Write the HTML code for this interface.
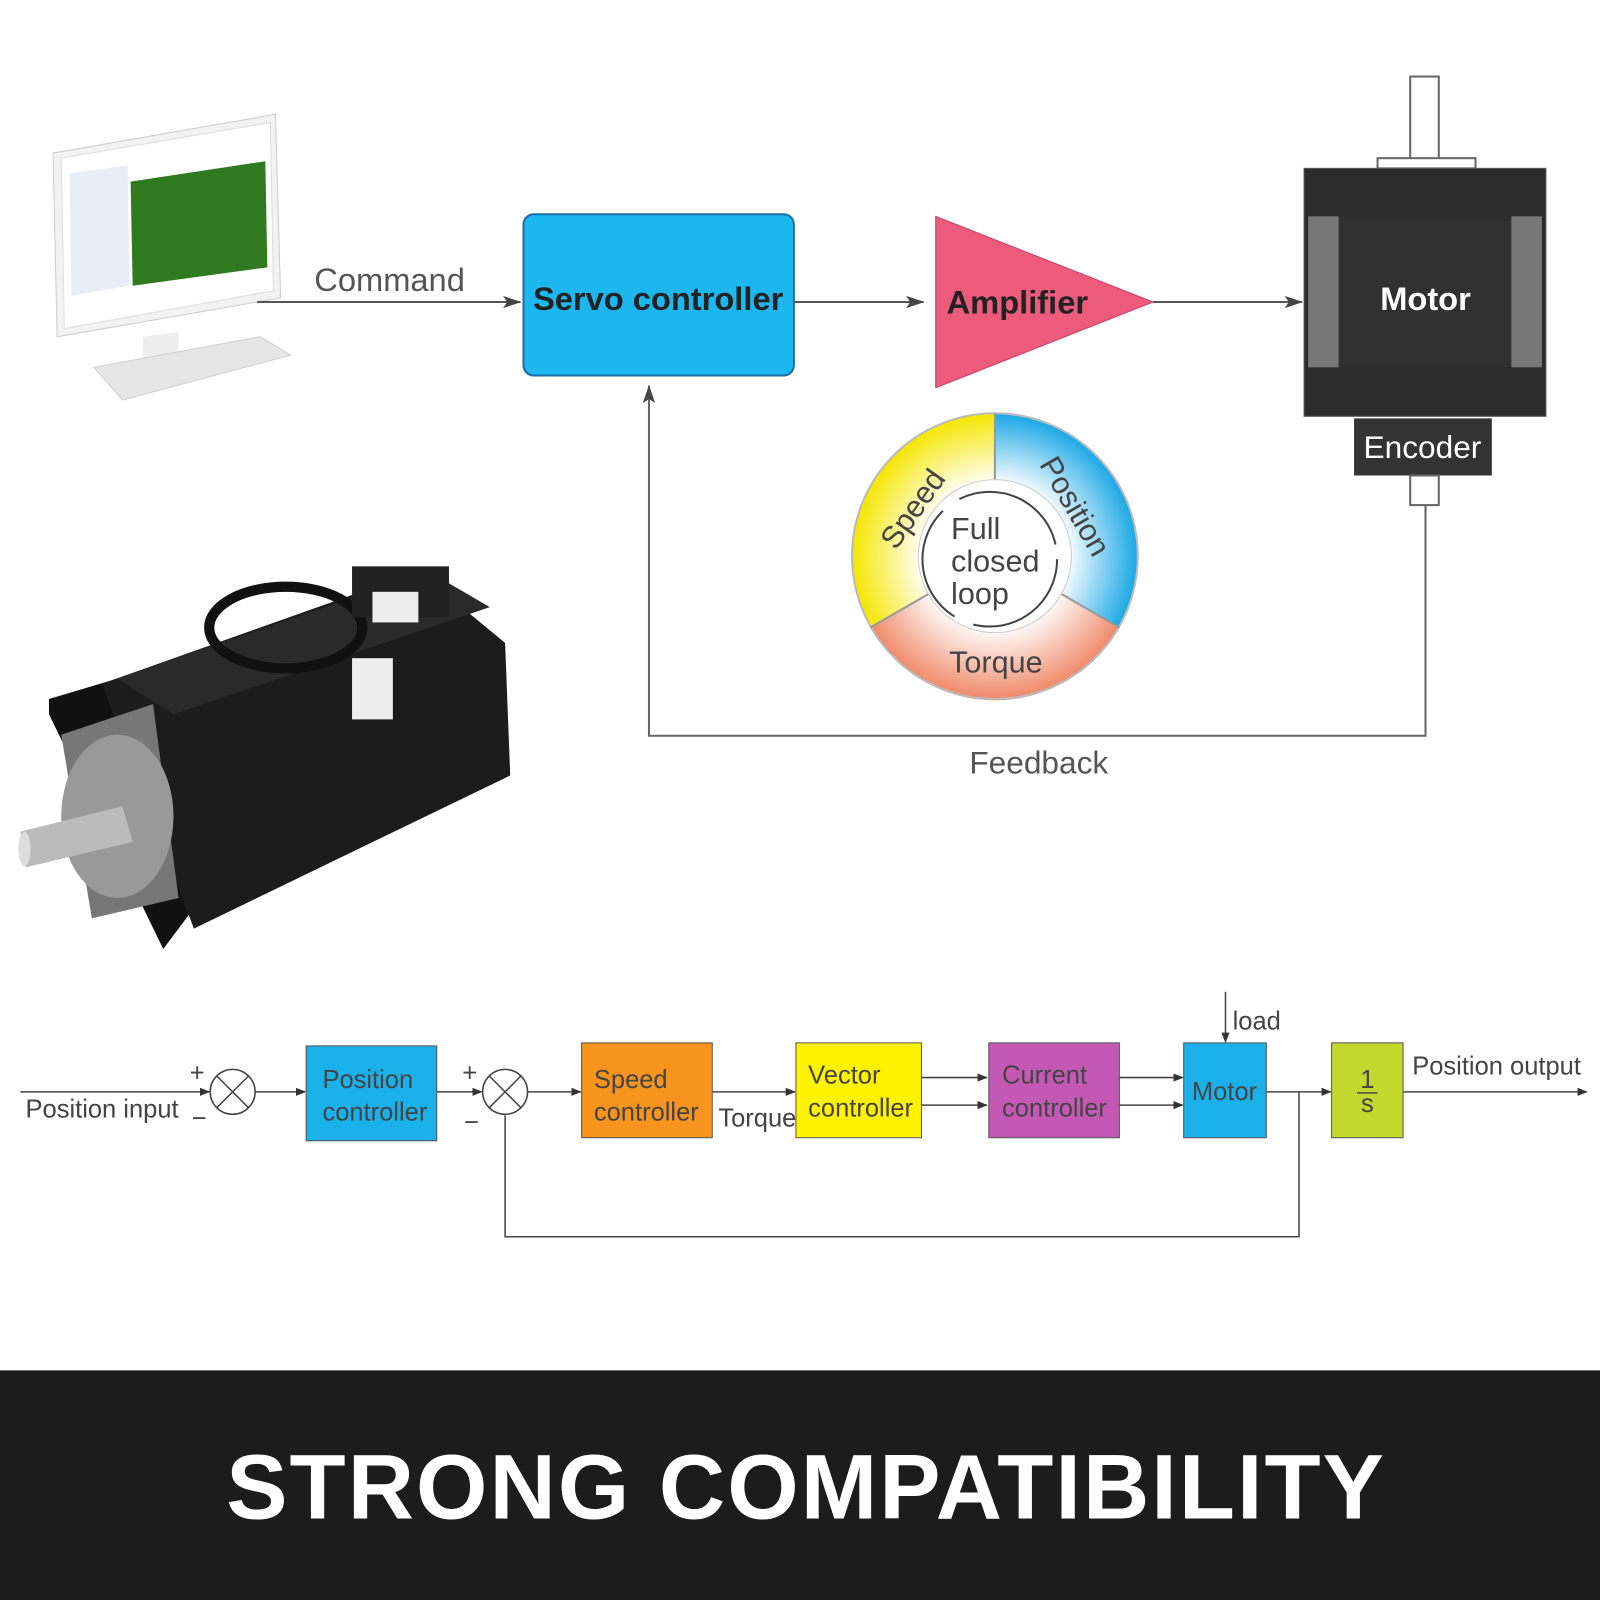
<!DOCTYPE html>
<html><head><meta charset="utf-8"><style>
html,body{margin:0;padding:0;background:#fff;}
svg{display:block;}
text{font-family:"Liberation Sans",sans-serif;}
</style></head><body>
<svg width="1600" height="1600" viewBox="0 0 1568 1568" xmlns="http://www.w3.org/2000/svg">
<defs>
<marker id="ah" markerWidth="10" markerHeight="8" refX="9" refY="4" orient="auto" markerUnits="userSpaceOnUse"><path d="M0,0 L10,4 L0,8 Z" fill="#333"/></marker>
<marker id="as" markerWidth="18" markerHeight="12" refX="17" refY="6" orient="auto" markerUnits="userSpaceOnUse"><path d="M0,0 L18,6 L0,12 L4,6 Z" fill="#444"/></marker>
<radialGradient id="gy" cx="975" cy="545" r="140" gradientUnits="userSpaceOnUse"><stop offset="0.5" stop-color="#fff"/><stop offset="1" stop-color="#f5e600"/></radialGradient>
<radialGradient id="gb" cx="975" cy="545" r="140" gradientUnits="userSpaceOnUse"><stop offset="0.5" stop-color="#fff"/><stop offset="1" stop-color="#1aa8e6"/></radialGradient>
<radialGradient id="gt" cx="975" cy="545" r="140" gradientUnits="userSpaceOnUse"><stop offset="0.5" stop-color="#fff"/><stop offset="1" stop-color="#f08a6a"/></radialGradient>
</defs>
<rect width="1568" height="1568" fill="#fff"/>

<!-- Monitor -->
<polygon points="52,150 270,112 275,292 56,330" fill="#f2f2f2" stroke="#ccc"/>
<polygon points="60,155 265,120 268,285 63,322" fill="#fff" stroke="#ddd"/>
<polygon points="128,178 260,158 262,262 130,280" fill="#2f7a1e"/>
<polygon points="68,170 125,162 127,280 70,290" fill="#e8eef5"/>
<polygon points="140,330 175,325 175,355 140,360" fill="#eee"/>
<polygon points="92,360 255,330 285,348 120,392" fill="#e6e6e6" stroke="#d0d0d0"/>

<!-- Command -->
<text x="308" y="285" font-size="32" fill="#555">Command</text>
<line x1="252" y1="296" x2="510" y2="296" stroke="#555" stroke-width="2" marker-end="url(#as)"/>

<!-- Servo controller -->
<rect x="513" y="210" width="265" height="158" rx="10" fill="#1cb7ef" stroke="#1a6fa8" stroke-width="2"/>
<text x="645" y="304" font-size="32" font-weight="bold" fill="#222" text-anchor="middle">Servo controller</text>
<line x1="778" y1="296" x2="905" y2="296" stroke="#555" stroke-width="2" marker-end="url(#as)"/>

<!-- Amplifier -->
<polygon points="917,212 917,380 1130,296" fill="#ec5b7c" stroke="#c84060"/>
<text x="997" y="307" font-size="32" font-weight="bold" fill="#222" text-anchor="middle">Amplifier</text>
<line x1="1130" y1="296" x2="1276" y2="296" stroke="#555" stroke-width="2" marker-end="url(#as)"/>

<!-- Motor top -->
<rect x="1382" y="75" width="28" height="85" fill="#fff" stroke="#666" stroke-width="2"/>
<rect x="1350" y="155" width="96" height="10" fill="#fff" stroke="#666" stroke-width="2"/>
<rect x="1278" y="165" width="237" height="243" fill="#2c2c2c" stroke="#555"/>
<rect x="1282" y="212" width="30" height="148" fill="#777"/>
<rect x="1481" y="212" width="30" height="148" fill="#777"/>
<rect x="1312" y="212" width="169" height="148" fill="#303030"/>
<text x="1397" y="304" font-size="32" font-weight="bold" fill="#fff" text-anchor="middle">Motor</text>
<rect x="1327" y="410" width="135" height="56" fill="#333"/>
<text x="1394" y="449" font-size="31" fill="#fff" text-anchor="middle">Encoder</text>
<rect x="1382" y="466" width="28" height="29" fill="#fff" stroke="#666" stroke-width="2"/>

<!-- Feedback -->
<polyline points="1397,495 1397,721 636,721 636,378" fill="none" stroke="#666" stroke-width="2" marker-end="url(#as)"/>
<text x="1018" y="758" font-size="31" fill="#555" text-anchor="middle">Feedback</text>

<!-- Circle -->
<path d="M975,545 L975,405 A140,140 0 0,0 853,615 Z" fill="url(#gy)"/>
<path d="M975,545 L975,405 A140,140 0 0,1 1097,615 Z" fill="url(#gb)"/>
<path d="M975,545 L853,615 A140,140 0 0,0 1097,615 Z" fill="url(#gt)"/>
<circle cx="975" cy="545" r="140" fill="none" stroke="#bbb" stroke-width="2"/>
<line x1="975" y1="405" x2="975" y2="470" stroke="#999" stroke-width="2"/>
<line x1="853" y1="615" x2="910" y2="582" stroke="#999" stroke-width="2"/>
<line x1="1097" y1="615" x2="1040" y2="582" stroke="#999" stroke-width="2"/>
<circle cx="975" cy="545" r="75" fill="#fff" stroke="#ccc"/>
<circle cx="970" cy="548" r="66" fill="none" stroke="#444" stroke-width="2" stroke-dasharray="120,20"/>
<text font-size="30" fill="#444" transform="translate(878,540) rotate(-55)">Speed</text>
<text font-size="30" fill="#444" transform="translate(1018,455) rotate(60)">Position</text>
<text x="976" y="659" font-size="30" fill="#444" text-anchor="middle">Torque</text>
<text x="932" y="528" font-size="30" fill="#444">Full</text>
<text x="932" y="560" font-size="30" fill="#444">closed</text>
<text x="932" y="592" font-size="30" fill="#444">loop</text>

<!-- Motor photo -->
<polygon points="48,685 115,665 190,890 160,930 48,700" fill="#111"/>
<polygon points="100,670 410,560 495,630 500,760 190,910" fill="#1c1c1c"/>
<polygon points="115,665 420,560 480,595 170,700" fill="#2a2a2a"/>
<polygon points="60,720 150,690 175,880 90,900" fill="#777"/>
<ellipse cx="115" cy="800" rx="55" ry="80" fill="#999"/>
<polygon points="20,815 120,790 130,825 25,850" fill="#bbb"/>
<ellipse cx="24" cy="832" rx="6" ry="17" fill="#ddd"/>
<ellipse cx="280" cy="615" rx="75" ry="40" fill="none" stroke="#111" stroke-width="10"/>
<rect x="345" y="555" width="95" height="50" fill="#222"/>
<rect x="365" y="580" width="45" height="30" fill="#eee"/>
<rect x="345" y="645" width="40" height="60" fill="#eee"/>

<!-- Block diagram -->
<g stroke="#444" stroke-width="1.5" fill="none">
<line x1="20" y1="1070" x2="205" y2="1070" marker-end="url(#ah)"/>
<circle cx="228" cy="1070" r="22"/>
<line x1="212" y1="1054" x2="244" y2="1086"/><line x1="244" y1="1054" x2="212" y2="1086"/>
<line x1="250" y1="1070" x2="299" y2="1070" marker-end="url(#ah)"/>
<line x1="428" y1="1070" x2="472" y2="1070" marker-end="url(#ah)"/>
<circle cx="495" cy="1070" r="22"/>
<line x1="479" y1="1054" x2="511" y2="1086"/><line x1="511" y1="1054" x2="479" y2="1086"/>
<line x1="517" y1="1070" x2="569" y2="1070" marker-end="url(#ah)"/>
<line x1="698" y1="1070" x2="779" y2="1070" marker-end="url(#ah)"/>
<line x1="903" y1="1056" x2="967" y2="1056" marker-end="url(#ah)"/>
<line x1="903" y1="1083" x2="967" y2="1083" marker-end="url(#ah)"/>
<line x1="1097" y1="1056" x2="1159" y2="1056" marker-end="url(#ah)"/>
<line x1="1097" y1="1083" x2="1159" y2="1083" marker-end="url(#ah)"/>
<line x1="1201" y1="972" x2="1201" y2="1021" marker-end="url(#ah)"/>
<line x1="1241" y1="1070" x2="1304" y2="1070" marker-end="url(#ah)"/>
<polyline points="1273,1070 1273,1212 495,1212 495,1093"/>
<line x1="1375" y1="1070" x2="1555" y2="1070" marker-end="url(#ah)"/>
</g>
<rect x="300" y="1025" width="128" height="93" fill="#1ab0ea" stroke="#555"/>
<rect x="570" y="1022" width="128" height="93" fill="#f7941d" stroke="#555"/>
<rect x="780" y="1022" width="123" height="93" fill="#fff200" stroke="#555"/>
<rect x="969" y="1022" width="128" height="93" fill="#c458b5" stroke="#555"/>
<rect x="1160" y="1022" width="81" height="93" fill="#1ab0ea" stroke="#555"/>
<rect x="1305" y="1022" width="70" height="93" fill="#c1d82f" stroke="#555"/>
<g font-size="25" fill="#444">
<text x="25" y="1095">Position input</text>
<text x="186" y="1060">+</text><text x="188" y="1104">−</text>
<text x="453" y="1060">+</text><text x="455" y="1108">−</text>
<text x="316" y="1066">Position</text><text x="316" y="1098">controller</text>
<text x="582" y="1066">Speed</text><text x="582" y="1098">controller</text>
<text x="704" y="1104">Torque</text>
<text x="792" y="1062">Vector</text><text x="792" y="1094">controller</text>
<text x="982" y="1062">Current</text><text x="982" y="1094">controller</text>
<text x="1168" y="1078">Motor</text>
<text x="1208" y="1009">load</text>
<text x="1340" y="1066" text-anchor="middle">1</text>
<line x1="1330" y1="1071" x2="1350" y2="1071" stroke="#444" stroke-width="1.5"/>
<text x="1340" y="1090" text-anchor="middle">s</text>
<text x="1384" y="1053">Position output</text>
</g>

<!-- Banner -->
<rect x="0" y="1343" width="1568" height="225" fill="#1c1c1c"/>
<text x="790" y="1488" font-size="90" font-weight="bold" fill="#fff" text-anchor="middle" letter-spacing="2">STRONG COMPATIBILITY</text>
</svg>
</body></html>
